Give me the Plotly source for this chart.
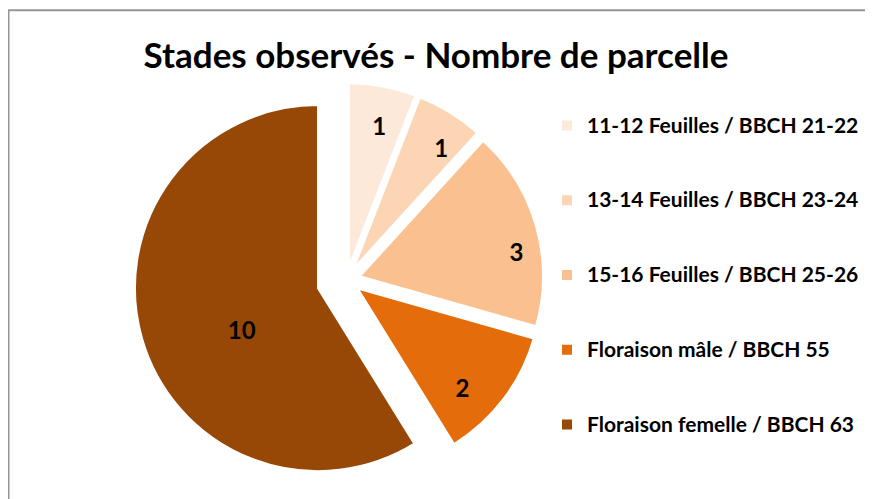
import plotly.graph_objects as go

categories = [
    "11-12 Feuilles / BBCH 21-22",
    "13-14 Feuilles / BBCH 23-24",
    "15-16 Feuilles / BBCH 25-26",
    "Floraison mâle / BBCH 55",
    "Floraison femelle / BBCH 63",
]
values = [1, 1, 3, 2, 10]
colors = ["#FDE9D9", "#FCD5B5", "#FAC090", "#E46C0A", "#974706"]
title_text = "Stades observés - Nombre de parcelle"

# the figure is taller than the 499px window; the part below is not seen
W, H = 873, 560
FONT = "Lato"

# page is drawn with an 8px body offset; layout numbers below are figure px
CX, CY = 338.5, 272.0          # pie centre (figure px)
PULL = [0.0765, 0.0765, 0.0765, 0.0765, 0.162]
HALF = 183 * (1 + max(PULL))   # half size of the pie domain
# transparent layer carrying the value labels (Excel puts them near the rim)
LCX, LCY = 338.5, 292.0
LABEL_PULL = [0.128, 0.138, 0.31, 0.059, 0.095]
LABEL_HALF = 183 * (1 + max(LABEL_PULL))


def dom(cx, cy, half):
    return dict(
        x=[(cx - half) / W, (cx + half) / W],
        y=[max(0, 1 - (cy + half) / H), min(1, 1 - (cy - half) / H)],
    )


legend_labels = [
    "\u200b<br><span style='font-size:21px'>" + c + "</span><br>\u200b"
    for c in categories
]

fig = go.Figure()
fig.add_trace(
    go.Pie(
        labels=legend_labels,
        values=values,
        sort=False,
        direction="clockwise",
        rotation=0,
        pull=PULL,
        marker=dict(colors=colors, line=dict(color="white", width=2)),
        textinfo="none",
        hovertext=categories,
        hoverinfo="text+value",
        domain=dom(CX, CY, HALF),
    )
)
fig.add_trace(
    go.Pie(
        labels=categories,
        values=values,
        sort=False,
        direction="clockwise",
        rotation=0,
        pull=LABEL_PULL,
        marker=dict(colors=["rgba(0,0,0,0)"] * len(values), line=dict(width=0)),
        textinfo="value",
        textposition="inside",
        insidetextorientation="horizontal",
        textfont=dict(family=FONT, size=24, color="black", weight="bold"),
        hoverinfo="skip",
        showlegend=False,
        domain=dom(LCX, LCY, LABEL_HALF),
    )
)

fig.update_layout(
    width=W,
    height=H,
    margin=dict(l=0, r=0, t=0, b=0),
    paper_bgcolor="white",
    plot_bgcolor="white",
    font=dict(family=FONT, color="black"),
    title=dict(
        text="<b>" + title_text + "</b>",
        x=428 / W,
        xanchor="center",
        y=1 - 47.8 / H,
        yanchor="middle",
        font=dict(family=FONT, size=35, color="black"),
    ),
    legend=dict(
        x=539 / W,
        xanchor="left",
        y=1 - 75 / H,
        yanchor="top",
        font=dict(family=FONT, size=18.4, color="black", weight="bold"),
        bgcolor="rgba(0,0,0,0)",
        tracegroupgap=0,
    ),
    shapes=[
        dict(
            type="rect",
            xref="paper",
            yref="paper",
            x0=0.5 / W,
            x1=1.05,
            y0=-0.05,
            y1=1 - 2.2 / H,
            line=dict(color="#959595", width=2),
            fillcolor="rgba(0,0,0,0)",
            layer="below",
        )
    ],
)

fig.write_html("out.html")
